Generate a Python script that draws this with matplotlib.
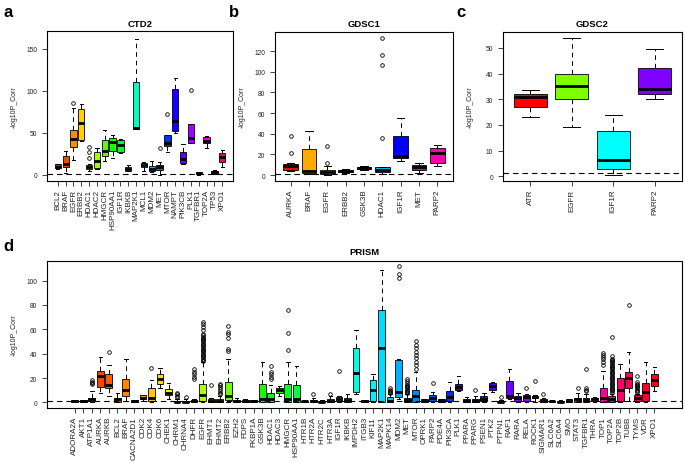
import colorsys
import numpy as np
import matplotlib
matplotlib.use("Agg")
import matplotlib.pyplot as plt

plt.rcParams['font.family'] = ['Liberation Sans', 'DejaVu Sans']

# --- panel a: CTD2 ---
ctd2_genes = ["BCL2", "BRAF", "EGFR", "ERBB2", "HDAC1", "HDAC2", "HMGCR", "HSP90AA1",
              "IGF1R", "IKBKB", "MAP2K1", "MCL1", "MDM2", "MET", "MTOR", "NAMPT",
              "PIK3CB", "PLK1", "TGFBR1", "TOP2A", "TP53", "XPO1"]
ctd2_q1 = [8, 9, 33, 42, 6.5, 8, 22, 29, 27, 5, 55, 9, 5, 5.5, 34, 52, 14, 38.5, 0.8, 38, 1.5, 15.5]
ctd2_med = [10, 13, 43, 62, 9, 16.5, 29, 39, 35, 7, 56, 11.5, 7, 9, 38, 64, 19, 44, 2, 40.5, 3, 21]
ctd2_q3 = [12.5, 23, 53, 78, 12, 27, 41, 44, 41, 9.5, 110, 14.5, 11, 12, 47, 102, 27, 60, 3.5, 44.5, 4.5, 25.5]
ctd2_lo = [7, 2.5, 18, 40, 5, 7.5, 16, 20, 26, 4.5, 54.5, 5, 4, 0.5, 27, 50, 12.5, 38, 0.5, 32, 1, 9]
ctd2_hi = [13, 29, 79, 84, 13.5, 32, 53, 47, 43, 11.5, 162, 15.5, 16, 15.5, 48, 115, 37, 60.5, 4, 46, 6, 30]
ctd2_fliers = [[], [], [85], [], [20, 27, 33], [], [], [], [], [], [], [], [], [32], [72], [],
               [], [101], [], [], [], []]

# --- panel b: GDSC1 ---
gdsc1_genes = ["AURKA", "BRAF", "EGFR", "ERBB2", "GSK3B", "HDAC1", "IGF1R", "MET", "PARP2"]
gdsc1_q1 = [5, 2, 0.8, 2.5, 5.5, 2.5, 16, 5, 12]
gdsc1_med = [9, 4, 2.5, 4, 7, 5, 18.5, 7.5, 21]
gdsc1_q3 = [11, 25.5, 4.5, 5.3, 8, 7.5, 37.5, 10, 26.5]
gdsc1_lo = [4, 1, 0.3, 2, 5, 1, 14, 2, 9]
gdsc1_hi = [12, 43, 9, 5.8, 8.5, 8, 55, 12, 29]
gdsc1_fliers = [[21, 38], [], [11.5, 28.5], [], [], [36, 106, 116, 133], [], [], []]

# --- panel c: GDSC2 ---
gdsc2_genes = ["ATR", "EGFR", "IGF1R", "PARP2"]
gdsc2_q1 = [27, 30, 3, 32]
gdsc2_med = [31, 35, 6.3, 34.2]
gdsc2_q3 = [32, 40, 17.8, 42]
gdsc2_lo = [23.3, 19.3, 0.5, 30]
gdsc2_hi = [33.5, 54, 24, 49.5]
gdsc2_fliers = [[], [], [], []]

# --- panel d: PRISM ---
prism_genes = ["ADORA2A", "AKT1", "ATP1A1", "AURKA", "AURKB", "BCL2", "BRAF", "CACNA2D1",
               "CDK2", "CDK4", "CDK6", "CHEK1", "CHRM1", "CHRNA4", "DHFR", "EGFR", "EHMT1",
               "EHMT2", "ERBB2", "EZH2", "FDPS", "FKBP1A", "GSK3B", "HDAC1", "HDAC3", "HMGCR",
               "HSP90AA1", "HTR1B", "HTR2A", "HTR2C", "HTR3A", "IGF1R", "IKBKB", "IMPDH2",
               "ITGB3", "KIF11", "MAP2K1", "MAPK14", "MDM2", "MET", "MTOR", "OPRK1", "PARP2",
               "PDE4A", "PIK3CA", "PLK1", "PPARA", "PPARG", "PSEN1", "PTK2", "PTPN1", "RAF1",
               "RARA", "RELA", "ROCK1", "SIGMAR1", "SLC6A2", "SLC6A4", "SMO", "STAT3",
               "TGFBR1", "THRA", "TOP1", "TOP2A", "TOP2B", "TUBB", "TYMS", "VDR", "XPO1"]
prism_q1 = [0.5, 0.7, 1.4, 12.5, 11.5, 0.5, 5, 0.5, 2.5, 0.8, 15, 5.7, 0.2, 0.3, 0.3, 0.8, 0.5,
            0.5, 1.6, 0.4, 0.5, 0.5, 0.5, 0.5, 8, 0.5, 0.5, 0.3, 0.3, 0.2, 0.4, 0.8, 0.5, 8.5,
            0.5, 1.5, 0.5, 0.5, 4.5, 0.5, 0.5, 0.3, 1.4, 0.4, 1.4, 10.5, 0.3, 0.3, 1, 10.5,
            0.2, 3.8, 1, 1, 4, 0.3, 0.3, 0.2, 0.3, 0.5, 0.5, 1, 0.5, 0.5, 1, 12, 1, 1, 13.3]
prism_med = [1, 1.2, 2.7, 22, 14, 2.5, 10.5, 1, 4, 3.5, 19, 8, 0.5, 0.7, 0.8, 6.3, 1.3,
             1.5, 5.5, 1.3, 1, 1, 3, 3, 10, 2.5, 2.7, 0.8, 1, 0.6, 1.2, 2.7, 2, 24,
             1, 10, 45, 1.5, 8.5, 2, 5, 1.2, 3.8, 1.3, 4.3, 13, 1, 1.2, 3, 13.5,
             0.6, 5, 3.2, 4.5, 4.8, 1, 0.8, 0.6, 1, 2.5, 2.3, 2.5, 3.2, 3, 10, 20, 3.8, 8.5, 18]
prism_q3 = [1.8, 1.8, 4, 26, 23, 4, 19, 1.8, 5.7, 11.5, 23.5, 11, 1.2, 1.4, 1.6, 15, 2.7,
            3, 17, 2.3, 2, 1.8, 15, 8, 12, 15, 14, 1.5, 2, 1.3, 2.5, 4.3, 4, 45,
            1.8, 18, 75.5, 4.5, 35, 4, 10.5, 2.5, 5.7, 2.5, 9, 15, 2.5, 3, 5.5, 16,
            1.2, 17.5, 5, 6, 5.4, 2.5, 1.5, 1.3, 2.5, 4, 4, 3.8, 11.4, 5, 20, 25, 6, 16, 23]
prism_lo = [0.2, 0.5, 0.3, 8, 5.5, 0.2, 1.5, 0.3, 1.4, 0.3, 11.5, 3, 0, 0.1, 0.1, 0.3, 0.2,
            0.2, 0.5, 0.2, 0.3, 0.3, 0.2, 0.2, 5.5, 0.2, 0.2, 0.1, 0.1, 0.1, 0.1, 0.3, 0.2, 7,
            0.3, 0.3, 0.2, 0.2, 2.5, 0.2, 0.2, 0.1, 0.5, 0.2, 0.5, 9, 0.1, 0.1, 0.3, 8.5,
            0.1, 3, 0.3, 0.3, 0.5, 0.1, 0.1, 0.1, 0.1, 0.2, 0.2, 0.5, 0.2, 0.2, 0.3, 1, 0.3, 0.3, 9]
prism_hi = [2.2, 2.3, 9, 37, 31, 7.5, 36, 2, 6.3, 18, 28, 16, 3, 2.5, 2.5, 33, 3.8,
            5, 36, 3.5, 2.5, 2, 33, 14.5, 13.5, 33, 30, 2, 4, 2, 5, 5.5, 7, 59,
            2.2, 23, 109, 6.5, 36, 6.5, 25, 3, 8.5, 3, 16.5, 22, 4.5, 5.5, 7.3, 17,
            2, 27.5, 7.5, 6.5, 6, 3.5, 2, 1.8, 3, 8, 6.8, 4.3, 26, 7, 31.5, 41, 7, 33, 29]
prism_fliers = [
    [], [], [15, 16, 17, 18], [], [41], [], [], [], [], [28], [], [],
    [4.5, 5.5, 6.5, 7.5], [4.3], [19, 21, 23, 25, 27],
    [34, 35, 36, 37, 38, 39, 40, 41, 42, 43, 44, 45, 46, 47, 48, 49, 50, 51, 52, 53, 54,
     55, 56, 59.5, 62, 64, 66],
    [14.5], [6.5, 8, 9.5, 11, 12.5, 14, 15.5], [42, 44, 53, 56, 58, 63], [], [], [], [],
    [19, 21, 23, 25, 30], [], [43, 57, 75.5], [], [], [7], [], [7], [25.5], [], [], [],
    [], [], [7.5, 8.5, 9.5, 10.5, 12], [102, 105, 112],
    [7.5, 8.5, 9.5, 10.5, 11.5, 12.5, 13.5, 14.5, 16, 17.5, 19.5],
    [27.5, 30.5, 33.5, 36.5, 39, 41.5, 44.5, 47, 50], [], [16], [], [], [], [], [10.5],
    [], [], [4.3], [], [], [12], [17.5], [7], [], [], [], [12], [9, 10.5, 12, 27], [],
    [30.5, 33.5, 36, 37, 39, 40.5],
    [8, 9, 10, 11, 12, 13, 14, 15, 16, 17, 18, 19, 20, 21, 22, 23, 24, 25, 26, 27, 28,
     29, 30, 31, 32, 33, 34, 35, 36, 38, 53.5],
    [], [80], [8.5, 9.5, 10.5, 11.5, 12.5, 13.5, 14.5, 15.5, 16.5, 21.5], [], []]

W, H = 685, 464


def px_axes(fig, left, top, right, bottom):
    return fig.add_axes([left / W, 1 - bottom / H, (right - left) / W, (bottom - top) / H])


def draw_panel(ax, genes, q1, med, q3, lo, hi, fliers, ylim, yticks, title, width_px):
    n = len(genes)
    pos = np.arange(1, n + 1)
    stats = [dict(label=g, q1=a, med=m, q3=b, whislo=l, whishi=h, fliers=f)
             for g, a, m, b, l, h, f in zip(genes, q1, med, q3, lo, hi, fliers)]
    bp = ax.bxp(stats, positions=pos, widths=0.8, capwidths=0.4, patch_artist=True,
                boxprops=dict(edgecolor='black', linewidth=0.6),
                medianprops=dict(color='black', linewidth=2.0, solid_capstyle='butt'),
                whiskerprops=dict(color='black', linewidth=0.7, linestyle=(0, (4.8, 4))),
                capprops=dict(color='black', linewidth=0.7),
                flierprops=dict(marker='o', markerfacecolor='none', markeredgecolor='black',
                                markersize=2.6, markeredgewidth=0.6, linestyle='none'))
    for i, patch in enumerate(bp['boxes']):
        patch.set_facecolor(colorsys.hsv_to_rgb(i / n, 1, 1))
    ax.axhline(1.3, color='black', lw=0.8, ls=(0, (5, 3.5)), zorder=5)
    ax.set_xlim(0.5 - 0.04 * n, n + 0.5 + 0.04 * n)
    ax.set_ylim(*ylim)
    ax.set_xticks(pos)
    ax.set_xticklabels(genes, rotation=90)
    ax.set_yticks(yticks)
    ax.tick_params(axis='x', length=3.6, width=0.6, pad=2, labelsize=5.8, colors='#222222')
    ax.tick_params(axis='y', length=3.6, width=0.6, pad=3.5, labelsize=4.8, colors='#222222')
    for s in ax.spines.values():
        s.set_linewidth(0.8)
    ax.text(-33 / width_px, 0.5, '-log10P_Corr', rotation=90, ha='center', va='center',
            transform=ax.transAxes, fontsize=5, color='#222222')
    return ax


fig = plt.figure(figsize=(6.85, 4.64), dpi=100)

ax_a = px_axes(fig, 47, 32, 233, 182)
draw_panel(ax_a, ctd2_genes, ctd2_q1, ctd2_med, ctd2_q3, ctd2_lo, ctd2_hi, ctd2_fliers,
           (-7.2, 171), [0, 50, 100, 150], 'CTD2', 186)
ax_a.text(0.5, 1.053, 'CTD2', transform=ax_a.transAxes, ha='center', va='center',
          fontsize=6.8, fontweight='bold')

ax_b = px_axes(fig, 275, 33, 453, 182)
draw_panel(ax_b, gdsc1_genes, gdsc1_q1, gdsc1_med, gdsc1_q3, gdsc1_lo, gdsc1_hi, gdsc1_fliers,
           (-5.8, 138.4), [0, 20, 40, 60, 80, 100, 120], 'GDSC1', 178)
ax_b.text(0.5, 1.06, 'GDSC1', transform=ax_b.transAxes, ha='center', va='center',
          fontsize=6.8, fontweight='bold')

ax_c = px_axes(fig, 503, 33, 682, 182)
draw_panel(ax_c, gdsc2_genes, gdsc2_q1, gdsc2_med, gdsc2_q3, gdsc2_lo, gdsc2_hi, gdsc2_fliers,
           (-1.8, 56.2), [0, 10, 20, 30, 40, 50], 'GDSC2', 179)
ax_c.text(0.5, 1.06, 'GDSC2', transform=ax_c.transAxes, ha='center', va='center',
          fontsize=6.8, fontweight='bold')

ax_d = px_axes(fig, 47, 262, 682, 409)
draw_panel(ax_d, prism_genes, prism_q1, prism_med, prism_q3, prism_lo, prism_hi, prism_fliers,
           (-4.6, 116), [0, 20, 40, 60, 80, 100], 'PRISM', 635)
ax_d.text(0.5, 1.068, 'PRISM', transform=ax_d.transAxes, ha='center', va='center',
          fontsize=6.8, fontweight='bold')

for letter, x, y in [('a', 3, 17), ('b', 229, 17), ('c', 456, 17), ('d', 3, 251)]:
    fig.text(x / W, 1 - y / H, letter, ha='left', va='baseline', fontsize=12,
             fontweight='bold')

fig.savefig('out.png', dpi=100)
